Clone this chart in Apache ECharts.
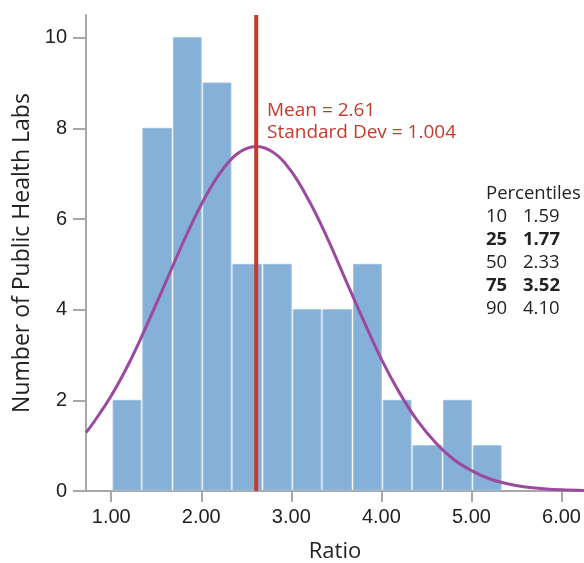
<!DOCTYPE html>
<html>
<head>
<meta charset="utf-8">
<script src="https://cdn.jsdelivr.net/npm/echarts@6/dist/echarts.min.js"></script>
<style>html,body{margin:0;padding:0;background:#fff}#c{width:584px;height:563px}</style>
</head>
<body>
<div id="c"></div>
<script>
// Histogram bin edges (Ratio) and counts per bin
const binEdges = [1.01, 1.34, 1.68, 2.01, 2.34, 2.68, 3.01, 3.34, 3.68, 4.01, 4.34, 4.68, 5.01, 5.34];
const binCounts = [2, 8, 10, 9, 5, 5, 4, 4, 5, 2, 1, 2, 1];
// Fitted normal curve
const curveX = [0.72, 0.8, 1.0, 1.2, 1.4, 1.6, 1.8, 2.0, 2.2, 2.4, 2.61, 2.8, 3.0, 3.2, 3.4, 3.6, 3.8, 4.0, 4.2, 4.4, 4.6, 4.8, 5.0, 5.2, 5.4, 5.6, 5.8, 6.0, 6.25];
const curveY = [1.29, 1.50, 2.10, 2.83, 3.68, 4.58, 5.49, 6.32, 6.99, 7.44, 7.60, 7.47, 7.05, 6.39, 5.58, 4.67, 3.77, 2.91, 2.17, 1.55, 1.07, 0.70, 0.45, 0.27, 0.16, 0.09, 0.05, 0.025, 0.01];
const meanValue = 2.61;
const sdValue = '1.004';
const xTicks = [1, 2, 3, 4, 5, 6];
const yTicks = [0, 2, 4, 6, 8, 10];
const percentileLevels = ['10', '25', '50', '75', '90'];
const percentileValues = ['1.59', '1.77', '2.33', '3.52', '4.10'];
const percentileBold = [false, true, false, true, false];

const chart = echarts.init(document.getElementById('c'));
const sansH = '"Open Sans", "Noto Sans", sans-serif';
const tickFont = '"Liberation Sans", Arial, sans-serif';

const barData = binCounts.map((c, i) => [binEdges[i], binEdges[i + 1], c]);
const curveData = curveX.map((x, i) => [x, curveY[i]]);

const graphics = [
  { type: 'text', x: 267, y: 111, style: { text: 'Mean = ' + meanValue.toFixed(2), font: '19px ' + sansH, fill: '#C53A2B', verticalAlign: 'middle' } },
  { type: 'text', x: 267, y: 133, style: { text: 'Standard Dev = ' + sdValue, font: '19px ' + sansH, fill: '#C53A2B', verticalAlign: 'middle' } },
  { type: 'text', x: 486, y: 194, style: { text: 'Percentiles', font: '18.5px ' + sansH, fill: '#222', verticalAlign: 'middle' } }
];
percentileLevels.forEach((lv, i) => {
  const w = percentileBold[i] ? 'bold ' : '';
  graphics.push({ type: 'text', x: 486, y: 217 + i * 23, style: { text: lv, font: w + '18.5px ' + sansH, fill: '#222', verticalAlign: 'middle' } });
  graphics.push({ type: 'text', x: 523, y: 217 + i * 23, style: { text: percentileValues[i], font: w + '18.5px ' + sansH, fill: '#222', verticalAlign: 'middle' } });
});

chart.setOption({
  animation: false,
  grid: { left: 86, right: 0, top: 15, bottom: 72, containLabel: false, outerBoundsMode: 'none' },
  xAxis: {
    type: 'value', min: 0.72, max: 6.25,
    name: 'Ratio', nameLocation: 'middle', nameGap: 50,
    nameTextStyle: { fontFamily: sansH, fontSize: 22, color: '#222' },
    axisLine: { lineStyle: { color: '#A8A8A8', width: 2 } },
    axisTick: { show: true, length: 11, lineStyle: { color: '#A8A8A8', width: 2 }, customValues: xTicks },
    axisLabel: { customValues: xTicks, formatter: v => v.toFixed(2), fontFamily: tickFont, fontSize: 20, color: '#222', margin: 16 },
    splitLine: { show: false }
  },
  yAxis: {
    type: 'value', min: 0, max: 10.5,
    name: 'Number of Public Health Labs', nameLocation: 'middle', nameGap: 42,
    nameTextStyle: { fontFamily: sansH, fontSize: 23, color: '#222' },
    axisLine: { show: true, lineStyle: { color: '#A8A8A8', width: 2 } },
    axisTick: { show: true, length: 13, lineStyle: { color: '#A8A8A8', width: 2 }, customValues: yTicks },
    axisLabel: { customValues: yTicks, fontFamily: tickFont, fontSize: 20, color: '#222', margin: 19 },
    splitLine: { show: false }
  },
  series: [
    {
      type: 'custom',
      data: barData,
      encode: { x: [0, 1], y: 2 },
      z: 1,
      renderItem: function (params, api) {
        const p0 = api.coord([api.value(0), api.value(2)]);
        const p1 = api.coord([api.value(1), 0]);
        return {
          type: 'rect',
          shape: { x: p0[0] + 1, y: p0[1], width: p1[0] - p0[0] - 2, height: p1[1] - p0[1] - 1 },
          style: { fill: '#85B0D7', stroke: '#9DC0E0', lineWidth: 1 }
        };
      }
    },
    {
      type: 'line',
      data: curveData,
      smooth: 0.4,
      showSymbol: false,
      z: 3,
      lineStyle: { color: '#9B4A9F', width: 3 }
    },
    {
      type: 'line',
      data: [[meanValue, 0], [meanValue, 10.5]],
      showSymbol: false,
      z: 4,
      lineStyle: { color: '#C53A2B', width: 4 }
    }
  ],
  graphic: graphics
});
</script>
</body>
</html>
